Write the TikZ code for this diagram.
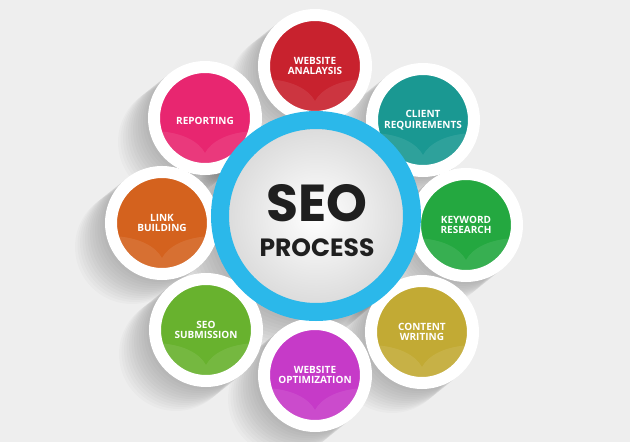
\documentclass[tikz,border=0pt]{standalone}
\usepackage{fontspec}
\setmainfont{Open Sans}
\newfontfamily\titlefont{Poppins}
\usetikzlibrary{positioning,backgrounds,calc}

\definecolor{bgray}{RGB}{238,238,238}
\definecolor{ringblue}{RGB}{43,184,234}
\definecolor{wsred}{RGB}{200,34,46}
\definecolor{reppink}{RGB}{232,38,112}
\definecolor{clteal}{RGB}{26,152,146}
\definecolor{kwgreen}{RGB}{36,168,64}
\definecolor{lborange}{RGB}{212,98,30}
\definecolor{sublime}{RGB}{104,178,46}
\definecolor{optmagenta}{RGB}{198,58,200}
\definecolor{cwolive}{RGB}{194,170,52}

\tikzset{
  seodisc/.style={circle, minimum size=102pt, inner sep=0pt, draw=white, line width=12pt,
    text=white, align=center, font=\fontsize{10}{10.5}\selectfont\bfseries},
  seoring/.style={circle, minimum size=192pt, inner sep=0pt, draw=ringblue, line width=18pt,
    inner color=white, outer color=gray!30},
  titletext/.style={text=black!88, inner sep=0pt, font=\titlefont\bfseries}
}

\begin{document}
\begin{tikzpicture}[x=1pt, y=-1pt]
  \useasboundingbox (0,0) rectangle (630,442);

  % outer discs
  \node[seodisc, fill=wsred] at (315,66) (analysis) {};
  \node[seodisc, fill=clteal] at (423,120) (client) {};
  \node[seodisc, fill=kwgreen] at (466,225) (keyword) {};
  \node[seodisc, fill=cwolive] at (422,332) (content) {};
  \node[seodisc, fill=optmagenta] at (315,375) (optim) {};
  \node[seodisc, fill=sublime] at (206,330) (submit) {};
  \node[seodisc, fill=lborange] at (162,223) (linkb) {};
  \node[seodisc, fill=reppink] at (205,118) (report) {};

  % lighter lower half of each disc
  \foreach \n in {analysis,client,keyword,content,optim,submit,linkb,report} {
    \begin{scope}
      \clip (\n.center) circle (45);
      \fill[white, opacity=.09] ($(\n.center)+(-50,13)$)
        .. controls ($(\n.center)+(-22,14)$) and ($(\n.center)+(-6,24)$) .. ($(\n.center)+(0,35)$)
        .. controls ($(\n.center)+(6,24)$) and ($(\n.center)+(22,14)$) .. ($(\n.center)+(50,13)$)
        -- ($(\n.center)+(50,50)$) -- ($(\n.center)+(-50,50)$) -- cycle;
    \end{scope}
  }

  % labels
  \node[seodisc, draw=none, fill=none] at (analysis) (analysistxt) {WEBSITE\\ANALAYSIS};
  \node[seodisc, draw=none, fill=none] at (client) (clienttxt) {CLIENT\\REQUIREMENTS};
  \node[seodisc, draw=none, fill=none] at (keyword) (keywordtxt) {KEYWORD\\RESEARCH};
  \node[seodisc, draw=none, fill=none] at (content) (contenttxt) {CONTENT\\WRITING};
  \node[seodisc, draw=none, fill=none] at (optim) (optimtxt) {WEBSITE\\OPTIMIZATION};
  \node[seodisc, draw=none, fill=none] at (submit) (submittxt) {SEO\\SUBMISSION};
  \node[seodisc, draw=none, fill=none] at (linkb) (linkbtxt) {LINK\\BUILDING};
  \node[seodisc, draw=none, fill=none] at ([yshift=-3pt]report) (reporttxt) {REPORTING};

  % centre
  \node[seoring] at (316,216) (seo) {};
  \node[titletext, font=\titlefont\bfseries\fontsize{52}{52}\selectfont] at (317,203) (seoword) {SEO};
  \node[titletext, font=\titlefont\bfseries\fontsize{25}{25}\selectfont] at (317,248) (process) {PROCESS};

  % background and shadows
  \begin{scope}[on background layer]
    \fill[bgray] (0,0) rectangle (630,442);
    \foreach \n in {analysis,client,keyword,content,optim,submit,linkb,report}
      \foreach \k in {1,...,12}
        \fill[black, opacity=.018] ([shift={(-\k*2.5,\k*2)}]\n.center) circle (57);
    \foreach \k in {1,...,12}
      \fill[black, opacity=.018] ([shift={(-\k*3,\k*2.5)}]seo.center) circle (105);
  \end{scope}
\end{tikzpicture}
\end{document}
